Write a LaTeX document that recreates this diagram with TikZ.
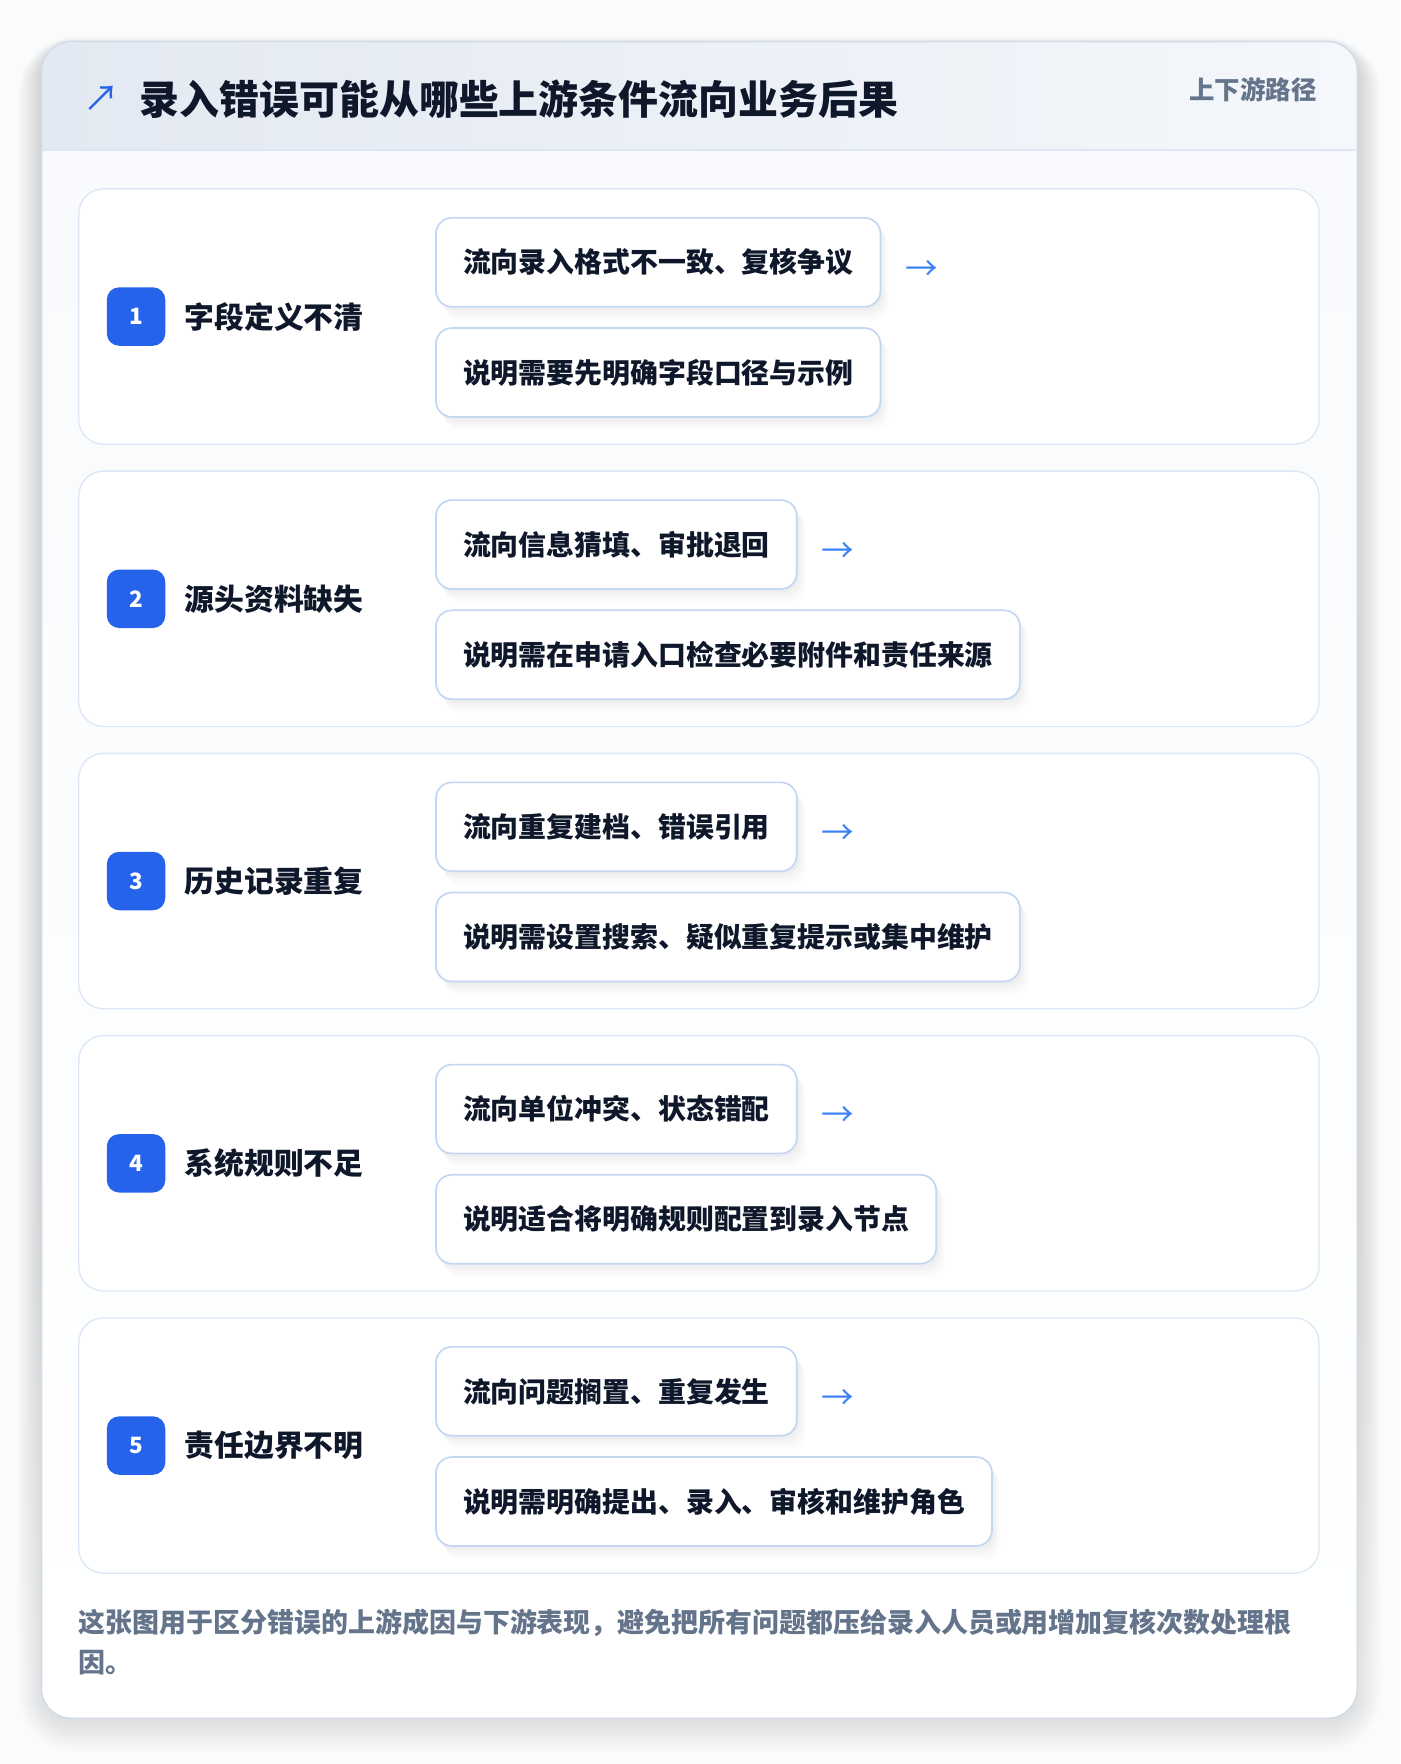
\documentclass[tikz,border=0pt]{standalone}
\usepackage{fontspec}
\setmainfont{Noto Sans CJK SC}
\usetikzlibrary{shadows}
\definecolor{pagebg}{HTML}{FAFBFC}
\definecolor{cardbg}{HTML}{F8FAFD}
\definecolor{cardline}{HTML}{D3DBE6}
\definecolor{headL}{HTML}{E3E9F2}
\definecolor{headR}{HTML}{F4F7FB}
\definecolor{headline}{HTML}{DCE6F4}
\definecolor{rowline}{HTML}{DCE8F7}
\definecolor{boxline}{HTML}{C4D7F2}
\definecolor{badgeblue}{HTML}{2563EB}
\definecolor{arrowblue}{HTML}{3B82F6}
\definecolor{ink}{HTML}{0F172A}
\definecolor{muted}{HTML}{64748B}
\definecolor{shade}{HTML}{1E293B}
\tikzset{
  rowcard/.style={draw=rowline, line width=1.2pt, fill=white, rounded corners=22pt},
  badgebox/.style={fill=badgeblue, rounded corners=11pt, minimum width=52pt, minimum height=52pt,
    inner sep=0pt, text=white, font=\bfseries\fontsize{20}{24}\selectfont},
  rowlabel/.style={anchor=west, inner sep=0pt, text=ink, font=\bfseries\fontsize{26.5}{30}\selectfont},
  flowbox/.style={draw=boxline, line width=1.5pt, fill=white, rounded corners=14pt,
    minimum height=79pt, inner xsep=24pt, inner ysep=0pt, anchor=north west, text=ink,
    font=\bfseries\fontsize{24.8}{28}\selectfont,
    general shadow={fill=shade, opacity=0.018, shadow xshift=2pt, shadow yshift=-3pt},
    general shadow={fill=shade, opacity=0.018, shadow xshift=4pt, shadow yshift=-6pt},
    general shadow={fill=shade, opacity=0.015, shadow xshift=6pt, shadow yshift=-9pt},
    general shadow={fill=shade, opacity=0.012, shadow xshift=8pt, shadow yshift=-12pt}},
  arrowtxt/.style={anchor=west, inner sep=0pt, text=arrowblue, font=\fontsize{29}{32}\selectfont}
}
\begin{document}
\begin{tikzpicture}[x=1pt,y=-1pt]
\useasboundingbox (0,0) rectangle (1245,1568.7);
\fill[pagebg] (0,0) rectangle (1245,1568.7);
% outer card shadow
\foreach \s in {2,4,...,26}{
  \fill[shade, opacity=0.006, rounded corners=26pt+\s pt] (37-\s*0.8,37-\s*0.4+6) rectangle (1207+\s*0.8,1528+\s+4);
}
% outer card
\path[draw=cardline, line width=1.2pt, fill=white, rounded corners=26pt] (37,37) rectangle (1207,1528);
\begin{scope}
  \clip[rounded corners=26pt] (37.6,37.6) rectangle (1206.4,1527.4);
  \shade[top color=cardbg, bottom color=white] (37,133) rectangle (1207,1528);
  \shade[left color=headL, right color=headR] (37,37) rectangle (1207,133);
\end{scope}
\draw[cardline, line width=1.2pt, rounded corners=26pt] (37,37) rectangle (1207,1528);
\draw[headline, line width=1.2pt] (38,133.5) -- (1206,133.5);
% title
\node[anchor=center, inner sep=0pt, text=badgeblue, font=\fontsize{32}{36}\selectfont] (icon) at (90,88) {↗};
\node[anchor=west, inner sep=0pt, text=ink, font=\bfseries\fontsize{35.5}{40}\selectfont] (title) at (124,88) {录入错误可能从哪些上游条件流向业务后果};
\node[anchor=east, inner sep=0pt, text=muted, font=\bfseries\fontsize{22.6}{26}\selectfont] (tag) at (1171,80) {上下游路径};
% rows
\foreach \i/\lab/\ta/\tb in {
  1/字段定义不清/流向录入格式不一致、复核争议/说明需要先明确字段口径与示例,
  2/源头资料缺失/流向信息猜填、审批退回/说明需在申请入口检查必要附件和责任来源,
  3/历史记录重复/流向重复建档、错误引用/说明需设置搜索、疑似重复提示或集中维护,
  4/系统规则不足/流向单位冲突、状态错配/说明适合将明确规则配置到录入节点,
  5/责任边界不明/流向问题搁置、重复发生/说明需明确提出、录入、审核和维护角色}{
  \pgfmathsetmacro{\yo}{168+251*(\i-1)}
  \path[rowcard] (70,\yo) rectangle (1173,\yo+227);
  \coordinate (row\i) at (70,\yo);
  \node[badgebox] (badge\i) at (121,\yo+113.5) {\i};
  \node[rowlabel] (label\i) at (164,\yo+113.5) {\lab};
  \node[flowbox] (top\i) at (387,\yo+25) {\ta};
  \node[flowbox] (bot\i) at (387,\yo+123) {\tb};
  \node[arrowtxt] (arr\i) at ([xshift=21pt,yshift=-7pt]top\i.east) {→};
}
% footer
\node[anchor=north west, inner sep=0pt, text=muted, align=left,
  font=\bfseries\fontsize{23.96}{35}\selectfont] (foot) at (70,1431)
  {这张图用于区分错误的上游成因与下游表现，避免把所有问题都压给录入人员或用增加复核次数处理根\\因。};
\end{tikzpicture}
\end{document}
